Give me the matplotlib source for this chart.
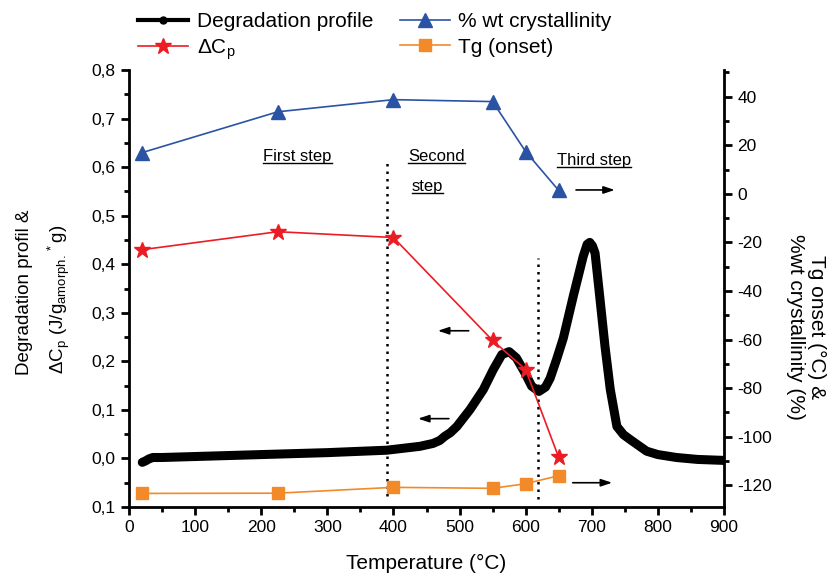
import matplotlib
matplotlib.use("Agg")
import matplotlib.pyplot as plt
from matplotlib.lines import Line2D
from matplotlib.ticker import MultipleLocator, FuncFormatter

plt.rcParams["font.family"] = ["Liberation Sans", "DejaVu Sans"]
plt.rcParams["mathtext.fontset"] = "custom"
plt.rcParams["mathtext.rm"] = "Liberation Sans"
plt.rcParams["mathtext.it"] = "Liberation Sans:italic"
plt.rcParams["axes.unicode_minus"] = False

# TGA derivative (degradation profile), left axis
deg_temp = [20, 25, 30, 36, 50, 100, 200, 300, 390, 440, 460, 470, 478, 486,
            496, 516, 536, 551, 564, 575, 586, 599, 609, 620, 630, 637, 647,
            657, 672, 687, 693, 697, 701, 705, 712, 720, 728, 738, 748, 758,
            783, 800, 828, 860, 900]
deg_val = [-0.008, -0.005, -0.001, 0.002, 0.002, 0.004, 0.008, 0.012, 0.017,
           0.025, 0.031, 0.037, 0.046, 0.053, 0.066, 0.101, 0.142, 0.183,
           0.214, 0.220, 0.207, 0.176, 0.149, 0.138, 0.147, 0.165, 0.205,
           0.248, 0.334, 0.416, 0.441, 0.445, 0.438, 0.423, 0.334, 0.231,
           0.142, 0.066, 0.049, 0.039, 0.015, 0.008, 0.002, -0.002, -0.004]

# sampled annealing temperatures
samp_temp = [20, 225, 400, 550, 600, 650]
dcp = [0.430, 0.467, 0.455, 0.243, 0.183, 0.002]           # left axis
cryst = [17.0, 33.8, 38.8, 38.0, 17.4, 1.4]                # right axis
tg_onset = [-123.4, -123.3, -120.9, -121.3, -119.4, -116.1]  # right axis

BLUE = "#2b53a4"
RED = "#ec1c24"
ORANGE = "#f28a2a"

fig = plt.figure(figsize=(8.39, 5.74), dpi=100)
ax = fig.add_axes([0.1538, 0.1167, 0.7091, 0.7613])
ax2 = ax.twinx()

ax.plot(deg_temp, deg_val, color="black", lw=6.5,
        solid_capstyle="round", solid_joinstyle="round", zorder=2)
ax.plot(samp_temp, dcp, color=RED, lw=1.2, marker="*", ms=12,
        markeredgecolor=RED, zorder=4)
ax2.plot(samp_temp, cryst, color=BLUE, lw=1.2, marker="^", ms=10,
         markeredgecolor=BLUE, zorder=4)
ax2.plot(samp_temp, tg_onset, color=ORANGE, lw=1.2, marker="s", ms=9,
         markeredgecolor=ORANGE, zorder=4)

# step boundaries
ax.plot([390, 390], [-0.078, 0.612], color="black", ls=(0, (1, 2)), lw=1.8,
        zorder=1)
ax.plot([619, 619], [-0.083, 0.413], color="black", ls=(0, (1, 2)), lw=1.8,
        zorder=1)

ax.set_xlim(0, 900)
ax.set_ylim(-0.1, 0.8)
ax2.set_ylim(-129, 51)

ax.xaxis.set_major_locator(MultipleLocator(100))
ax.xaxis.set_minor_locator(MultipleLocator(50))
ax.yaxis.set_major_locator(MultipleLocator(0.1))
ax.yaxis.set_minor_locator(MultipleLocator(0.05))
ax.yaxis.set_major_formatter(
    FuncFormatter(lambda v, _: f"{abs(v):.1f}".replace(".", ",")))
ax2.yaxis.set_major_locator(MultipleLocator(20))
ax2.yaxis.set_minor_locator(MultipleLocator(10))
ax2.yaxis.set_major_formatter(FuncFormatter(lambda v, _: f"{v:.0f}"))

for a in (ax, ax2):
    a.spines["top"].set_visible(False)
    for s in a.spines.values():
        s.set_linewidth(2)
    a.tick_params(which="major", direction="out", length=6, width=2,
                  labelsize=12.5)
    a.tick_params(which="minor", direction="out", length=3.5, width=2)
ax.spines["right"].set_visible(False)
ax2.spines["left"].set_visible(False)
ax2.spines["bottom"].set_visible(False)

# step captions (underlined afterwards)
step_kw = dict(fontsize=12, ha="left", va="center")
step_texts = [
    ax.text(203, 0.622, "First step", **step_kw),
    ax.text(422, 0.622, "Second", **step_kw),
    ax.text(428, 0.560, "step", **step_kw),
    ax.text(647, 0.614, "Third step", **step_kw),
]

arrow_kw = dict(arrowstyle="-|>,head_length=0.6,head_width=0.2",
                color="black", lw=1.2, mutation_scale=11)
ax.annotate("", xy=(739, 0.553), xytext=(672, 0.553), arrowprops=arrow_kw)
ax.annotate("", xy=(463, 0.263), xytext=(518, 0.263), arrowprops=arrow_kw)
ax.annotate("", xy=(433, 0.082), xytext=(488, 0.082), arrowprops=arrow_kw)
ax.annotate("", xy=(735, -0.05), xytext=(667, -0.05), arrowprops=arrow_kw)

fig.text(426.5 / 839, 1 - 563 / 574, "Temperature (°C)", fontsize=15,
         ha="center", va="center")
fig.text(25 / 839, 1 - 292 / 574, "Degradation profil &", fontsize=13.5,
         rotation=90, ha="center", va="center")
fig.text(59 / 839, 1 - 299 / 574,
         r"$\Delta$C$_\mathrm{p}$ (J/g$_\mathrm{amorph.}$$^*$g)",
         fontsize=13.5, rotation=90, ha="center", va="center")
fig.text(806 / 839, 1 - 327 / 574, "Tg onset (°C) &\n%wt crystallinity (%)",
         fontsize=15, rotation=270, ha="center", va="center",
         multialignment="center", linespacing=1.1)

handles = [
    Line2D([], [], color="black", lw=3, marker="o", ms=5),
    Line2D([], [], color=RED, lw=1.2, marker="*", ms=12),
    Line2D([], [], color=BLUE, lw=1.2, marker="^", ms=10),
    Line2D([], [], color=ORANGE, lw=1.2, marker="s", ms=9),
]
labels = ["Degradation profile", r"$\Delta$C$_\mathrm{p}$",
          "% wt crystallinity", "Tg (onset)"]
fig.legend(handles, labels, ncol=2, loc="upper left",
           bbox_to_anchor=(130 / 839, 1 - 4 / 574), frameon=False,
           fontsize=15, handlelength=2.4, handletextpad=0.4,
           columnspacing=1.3, labelspacing=0.3, borderaxespad=0)

# underline the step captions using their rendered extents
fig.canvas.draw()
renderer = fig.canvas.get_renderer()
inv = fig.transFigure.inverted()
for t in step_texts:
    bb = t.get_window_extent(renderer)
    (x0, y0), (x1, _) = inv.transform([(bb.x0, bb.y0 + 1), (bb.x1, bb.y1)])
    fig.add_artist(Line2D([x0, x1], [y0, y0], color="black", lw=1,
                          transform=fig.transFigure))

fig.savefig("out.png", dpi=100)
